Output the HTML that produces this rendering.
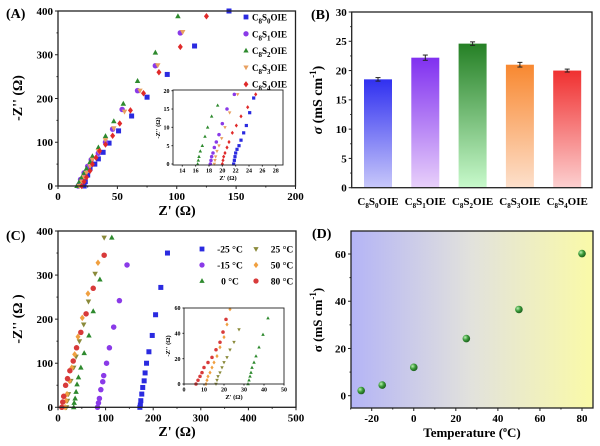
<!DOCTYPE html>
<html><head><meta charset="utf-8"><style>
body{margin:0;background:#fff}
svg{display:block;font-family:"Liberation Serif",serif;font-weight:bold}
</style></head><body>
<svg id="s" width="600" height="446" viewBox="0 0 600 446">
<defs>
<linearGradient id="gBlue" x1="0" y1="0" x2="0" y2="1"><stop offset="0" stop-color="#3030f0"/><stop offset="1" stop-color="#c8c8fa"/></linearGradient>
<linearGradient id="gPurple" x1="0" y1="0" x2="0" y2="1"><stop offset="0" stop-color="#8030f0"/><stop offset="1" stop-color="#e8d0fa"/></linearGradient>
<linearGradient id="gGreen" x1="0" y1="0" x2="0" y2="1"><stop offset="0" stop-color="#258025"/><stop offset="1" stop-color="#c8facc"/></linearGradient>
<linearGradient id="gOrange" x1="0" y1="0" x2="0" y2="1"><stop offset="0" stop-color="#f88830"/><stop offset="1" stop-color="#fde0cc"/></linearGradient>
<linearGradient id="gRed" x1="0" y1="0" x2="0" y2="1"><stop offset="0" stop-color="#f03030"/><stop offset="1" stop-color="#fcd0d0"/></linearGradient>
<linearGradient id="gD" x1="0" y1="0" x2="1" y2="0"><stop offset="0" stop-color="#b4b4f6"/><stop offset="0.5" stop-color="#e2e2dc"/><stop offset="1" stop-color="#fafaa8"/></linearGradient>
<radialGradient id="gBall" cx="0.35" cy="0.35" r="0.7"><stop offset="0" stop-color="#b8f0b0"/><stop offset="0.5" stop-color="#3a9a3a"/><stop offset="1" stop-color="#1a5a1a"/></radialGradient>
</defs>
<g id="gA"></g>
<g id="gB"></g>
<g id="gC"></g>
<g id="gDp"></g>
</svg>
<script>
// ---------- data ----------
const aNames=["C8S0OIE","C8S1OIE","C8S2OIE","C8S3OIE","C8S4OIE"];
const aSub=["0","1","2","3","4"];
const aS0x=[22,23,25,27,31,34,38,43,51,62,75,92,115,144];
const aS0y=[0,10,25,40,50,62,77,98,126,160,203,255,320,400];
const aS1x=[17,19,22,25,28,34,40,46,54,67,82,103];
const aS1y=[0,15,30,45,60,75,100,130,175,218,275,350];
const aS2x=[16,18,20,22,24,27,29,34,40,47,55,67,82,101];
const aS2y=[0,10,20,30,40,55,68,88,114,148,188,240,305,388];
const aS3x=[18,20,22,24,27,29,34,40,47,56,69,84,105];
const aS3y=[0,10,20,30,45,60,80,105,132,170,218,276,352];
const aS4x=[20,22,24,27,29,32,35,40,46,52,61,72,85,103,125];
const aS4y=[0,10,20,35,50,65,80,95,115,143,173,212,260,318,388];
const aiS0x=[21.7,21.8,21.9,22.0,22.2,22.5,22.8,23.2,23.6,24.1,24.7];
const aiS0y=[0,1,2,3,4,5,6.5,8.5,10.5,14,18];
const aiS1x=[18.2,18.3,18.4,18.6,18.8,19.1,19.5,20.0,20.7,21.8];
const aiS1y=[0,1,2,3,4.5,6,8,11,15,19];
const aiS2x=[16.3,16.4,16.5,16.7,17.0,17.4,17.8,18.4,19.3];
const aiS2y=[0,1,2,3.5,5,7.5,10,13,16];
const aiS3x=[18.8,18.9,19.0,19.2,19.5,19.9,20.4,21.1,22.3];
const aiS3y=[0,1,2,3.5,5,7,10,14,19];
const aiS4x=[20.0,20.1,20.2,20.4,20.7,21.0,21.5,22.1,22.8,23.8,25.0];
const aiS4y=[0,1,2,3,4.5,6,8.5,10.5,13,15.5,19];
const bCats=["0","1","2","3","4"];
const bVals=[18.5,22.2,24.6,21.0,20.0];
const bErr=[0.3,0.45,0.3,0.4,0.25];
const cNames=["-25 °C","-15 °C","0 °C","25 °C","50 °C","80 °C"];
const c1x=[172,173,174,176,178,181,183,186,191,198,205,216,230];
const c1y=[0,5,15,30,45,60,78,100,126,163,210,272,350];
const c2x=[83,85,87,90,94,96,102,108,117,129,145];
const c2y=[0,10,20,40,58,72,100,135,182,242,323];
const c3x=[33,34,36,38,40,43,48,55,65,74,88,113];
const c3y=[0,10,20,35,52,68,90,123,163,218,290,385];
const c4x=[18,20,22,27,33,38,45,54,64,78,97];
const c4y=[0,15,30,60,90,115,150,188,240,303,385];
const c5x=[15,17,19,24,29,35,42,51,63,84];
const c5y=[0,15,30,60,90,120,160,203,258,328];
const c6x=[8,10,12,16,20,25,32,39,48,59,74,97];
const c6y=[0,12,25,50,65,83,105,135,170,212,270,345];
const ci1x=[6,7,8,9,10,12,14,16,18,19.5,21];
const ci1y=[0,3,6,9,13,17,21,27,33,41,51];
const ci2x=[11,11.5,12,13,14,15,16.5,18,20,21.5,23];
const ci2y=[0,3,6,9,13,17,22,29,37,47,59];
const ci3x=[16,16.5,17,18,19,20,21.5,23,25,27.5];
const ci3y=[0,3,6,9,13,17,21,27,33,43,55];
const ci4x=[32,32.5,33,33.5,34,35,36,37.5,39.5,42];
const ci4y=[0,3,6,9,13,17,22,29,39,52];
const dT=[-25,-15,0,25,50,80];
const dS=[2.2,4.5,12,24.2,36.5,60.2];

const NS="http://www.w3.org/2000/svg";
function el(p,t,a,txt){const e=document.createElementNS(NS,t);for(const k in a)e.setAttribute(k,a[k]);if(txt!==undefined)e.textContent=txt;p.appendChild(e);return e;}
function lin(d0,d1,r0,r1){return v=>r0+(v-d0)*(r1-r0)/(d1-d0);}
function marker(p,shape,x,y,r,c){
  let m;
  if(shape==="sq")m=el(p,"rect",{x:x-r,y:y-r,width:2*r,height:2*r,fill:c});
  else if(shape==="ci")m=el(p,"circle",{cx:x,cy:y,r:r*1.1,fill:c});
  else if(shape==="tu")m=el(p,"polygon",{points:`${x},${y-r*1.2} ${x-r*1.1},${y+r*0.8} ${x+r*1.1},${y+r*0.8}`,fill:c});
  else if(shape==="td")m=el(p,"polygon",{points:`${x},${y+r*1.2} ${x-r*1.1},${y-r*0.8} ${x+r*1.1},${y-r*0.8}`,fill:c});
  else m=el(p,"polygon",{points:`${x},${y-r*1.3} ${x+r},${y} ${x},${y+r*1.3} ${x-r},${y}`,fill:c});
  
  
  return m;
}
function frame(p,x0,y0,x1,y1,sw,name){
  const r=el(p,"rect",{x:x0,y:y0,width:x1-x0,height:y1-y0,fill:"none",stroke:"#222","stroke-width":sw});
  
  
}
function xticks(p,ticks,sx,y,len,fs,minor){
  ticks.forEach(v=>{el(p,"line",{x1:sx(v),x2:sx(v),y1:y,y2:y+len,stroke:"#222","stroke-width":1});
    const t=el(p,"text",{x:sx(v),y:y+fs+len,"font-size":fs,"text-anchor":"middle"},String(v));
    });
  (minor||[]).forEach(v=>el(p,"line",{x1:sx(v),x2:sx(v),y1:y,y2:y+len/2,stroke:"#222","stroke-width":1}));
}
function yticks(p,ticks,sy,x,len,fs,minor){
  ticks.forEach(v=>{el(p,"line",{x1:x,x2:x-len,y1:sy(v),y2:sy(v),stroke:"#222","stroke-width":1});
    const t=el(p,"text",{x:x-len-2,y:sy(v)+fs*0.35,"font-size":fs,"text-anchor":"end"},String(v));
    });
  (minor||[]).forEach(v=>el(p,"line",{x1:x,x2:x-len/2,y1:sy(v),y2:sy(v),stroke:"#222","stroke-width":1}));
}
function label(p,txt,x,y,fs,rot,name,anchor){
  const t=el(p,"text",{x:x,y:y,"font-size":fs,"text-anchor":anchor||"middle",transform:rot?`rotate(-90 ${x} ${y})`:""});
  t.innerHTML=txt;
  
  return t;
}

// ---------- Panel A ----------
(function(){
  const g=document.getElementById("gA");
  const sx=lin(0,200,58,295.5), sy=lin(0,400,186,11);
  const cols=["#2a2ae0","#8a3ae8","#2e8a2e","#e8a060","#e02a2a"], shp=["sq","ci","tu","td","di"];
  const X=[aS0x,aS1x,aS2x,aS3x,aS4x],Y=[aS0y,aS1y,aS2y,aS3y,aS4y];
  X.forEach((xs,i)=>xs.forEach((v,j)=>{if(Y[i][j]<=400)marker(g,shp[i],sx(v),sy(Y[i][j]),2.5,cols[i]);}));
  frame(g,58,11,295.5,186,1.3,"plot-frame-a");
  xticks(g,[0,50,100,150,200],sx,186,3,11,[25,75,125,175]);
  yticks(g,[0,100,200,300,400],sy,58,3,11,[50,150,250,350]);
  label(g,"Z' (Ω)",177,215,14,false,"x-axis-title");
  label(g,"-Z'' (Ω)",22,98,14,true,"y-axis-title");
  label(g,"(A)",6,18,14,false,"panel-label-a","start");
  aSub.forEach((s,i)=>{const y=17+i*16.8;
    marker(g,shp[i],246,y,2.4,cols[i]);
    label(g,`C<tspan font-size="7" dy="3">8</tspan><tspan dy="-3">S</tspan><tspan font-size="7" dy="3">${s}</tspan><tspan dy="-3">OIE</tspan>`,252,y+3.5,9,false,"legend-entry","start");
  });
  const ix=lin(14,28,182.3,275.7), iy=lin(0,20,164,90.7);
  el(g,"rect",{x:173,y:90,width:110,height:75,fill:"#fff"});
  const XI=[aiS0x,aiS1x,aiS2x,aiS3x,aiS4x],YI=[aiS0y,aiS1y,aiS2y,aiS3y,aiS4y];
  XI.forEach((xs,i)=>xs.forEach((v,j)=>marker(g,shp[i],ix(v),iy(YI[i][j]),1.6,cols[i])));
  frame(g,173,90,283,165,0.9,"inset-frame-a");
  xticks(g,[14,16,18,20,22,24,26,28],ix,165,1.5,6);
  yticks(g,[0,5,10,15,20],iy,173,1.5,6);
  label(g,"Z' (Ω)",228,180,6.5,false,"inset-x-title");
  label(g,"-Z'' (Ω)",160,128,6.5,true,"inset-y-title");
})();

// ---------- Panel B ----------
(function(){
  const g=document.getElementById("gB");
  const sy=lin(0,30,187.7,12);
  const grads=["gBlue","gPurple","gGreen","gOrange","gRed"];
  const sx=i=>378+i*47.3;
  bVals.forEach((v,i)=>{
    const r=el(g,"rect",{x:sx(i)-14,y:sy(v),width:28,height:sy(0)-sy(v),fill:`url(#${grads[i]})`});
    
    
    const e=bErr[i];
    el(g,"line",{x1:sx(i),x2:sx(i),y1:sy(v+e),y2:sy(v-e),stroke:"#222","stroke-width":1});
    el(g,"line",{x1:sx(i)-2.5,x2:sx(i)+2.5,y1:sy(v+e),y2:sy(v+e),stroke:"#222","stroke-width":1});
    el(g,"line",{x1:sx(i)-2.5,x2:sx(i)+2.5,y1:sy(v-e),y2:sy(v-e),stroke:"#222","stroke-width":1});
    label(g,`C<tspan font-size="7" dy="3">8</tspan><tspan dy="-3">S</tspan><tspan font-size="7" dy="3">${bCats[i]}</tspan><tspan dy="-3">OIE</tspan>`,sx(i),205,11,false,"x-tick-label");
  });
  frame(g,351.7,12,592,187.7,1.3,"plot-frame-b");
  yticks(g,[0,5,10,15,20,25,30],sy,351.7,3,11,[2.5,7.5,12.5,17.5,22.5,27.5]);
  label(g,"<tspan font-style='italic'>σ</tspan> (mS cm<tspan font-size='9' dy='-6'>-1</tspan><tspan dy='6'>)</tspan>",322,100,14,true,"y-axis-title");
  label(g,"(B)",311,19,14,false,"panel-label-b","start");
})();

// ---------- Panel C ----------
(function(){
  const g=document.getElementById("gC");
  const sx=lin(0,500,58,296), sy=lin(0,400,407.3,231);
  const cols=["#2a2ae0","#8a3ae8","#2e8a2e","#8a8a3a","#f0a040","#d83a3a"], shp=["sq","ci","tu","td","di","ci"];
  const X=[c1x,c2x,c3x,c4x,c5x,c6x],Y=[c1y,c2y,c3y,c4y,c5y,c6y];
  X.forEach((xs,i)=>xs.forEach((v,j)=>marker(g,shp[i],sx(v),sy(Y[i][j]),2.5,cols[i])));
  frame(g,58,231,296,407.3,1.3,"plot-frame-c");
  xticks(g,[0,100,200,300,400,500],sx,407.3,3,11,[50,150,250,350,450]);
  yticks(g,[0,100,200,300,400],sy,58,3,11,[50,150,250,350]);
  label(g,"Z' (Ω)",177,436,14,false,"x-axis-title");
  label(g,"-Z'' (Ω )",22,319,14,true,"y-axis-title");
  label(g,"(C)",6,240,14,false,"panel-label-c","start");
  cNames.forEach((n,i)=>{const col=Math.floor(i/3),row=i%3;
    const x=col?256:202,y=249+row*16;
    marker(g,shp[i],x,y,2.4,cols[i]);
    label(g,n,x+(col?26:28),y+3.5,9.5,false,"legend-entry","middle");
  });
  const ix=lin(0,50,184,284), iy=lin(0,60,384,308);
  el(g,"rect",{x:184,y:308,width:100,height:76,fill:"#fff"});
  const XI=[ci1x,ci2x,ci3x,ci4x],YI=[ci1y,ci2y,ci3y,ci4y],ic=[5,4,3,2];
  XI.forEach((xs,k)=>xs.forEach((v,j)=>marker(g,shp[ic[k]],ix(v),iy(YI[k][j]),1.6,cols[ic[k]])));
  frame(g,184,308,284,384,0.9,"inset-frame-c");
  xticks(g,[0,10,20,30,40,50],ix,384,1.5,6);
  yticks(g,[0,20,40,60],iy,184,1.5,6);
  label(g,"Z' (Ω)",234,399,6.5,false,"inset-x-title");
  label(g,"-Z'' (Ω)",170,346,6.5,true,"inset-y-title");
})();

// ---------- Panel D ----------
(function(){
  const g=document.getElementById("gDp");
  const sx=lin(-20,80,371.7,582), sy=lin(0,60,395.7,254);
  el(g,"rect",{x:351,y:231,width:242,height:177,fill:"url(#gD)"});
  dT.forEach((t,i)=>{const c=el(g,"circle",{cx:sx(t),cy:sy(dS[i]),r:3.8,fill:"url(#gBall)"});
    });
  frame(g,351,231,593,408,1.3,"plot-frame-d");
  xticks(g,[-20,0,20,40,60,80],sx,408,3,11,[-30,-10,10,30,50,70]);
  yticks(g,[0,20,40,60],sy,351,3,11,[10,30,50]);
  label(g,"Temperature (<tspan font-size='8' dy='-5'>o</tspan><tspan dy='5'>C)</tspan>",472,437,13,false,"x-axis-title");
  label(g,"σ (mS cm<tspan font-size='9' dy='-6'>-1</tspan><tspan dy='6'>)</tspan>",322,320,13,true,"y-axis-title");
  label(g,"(D)",312,238,14,false,"panel-label-d","start");
})();
</script>
</body></html>
